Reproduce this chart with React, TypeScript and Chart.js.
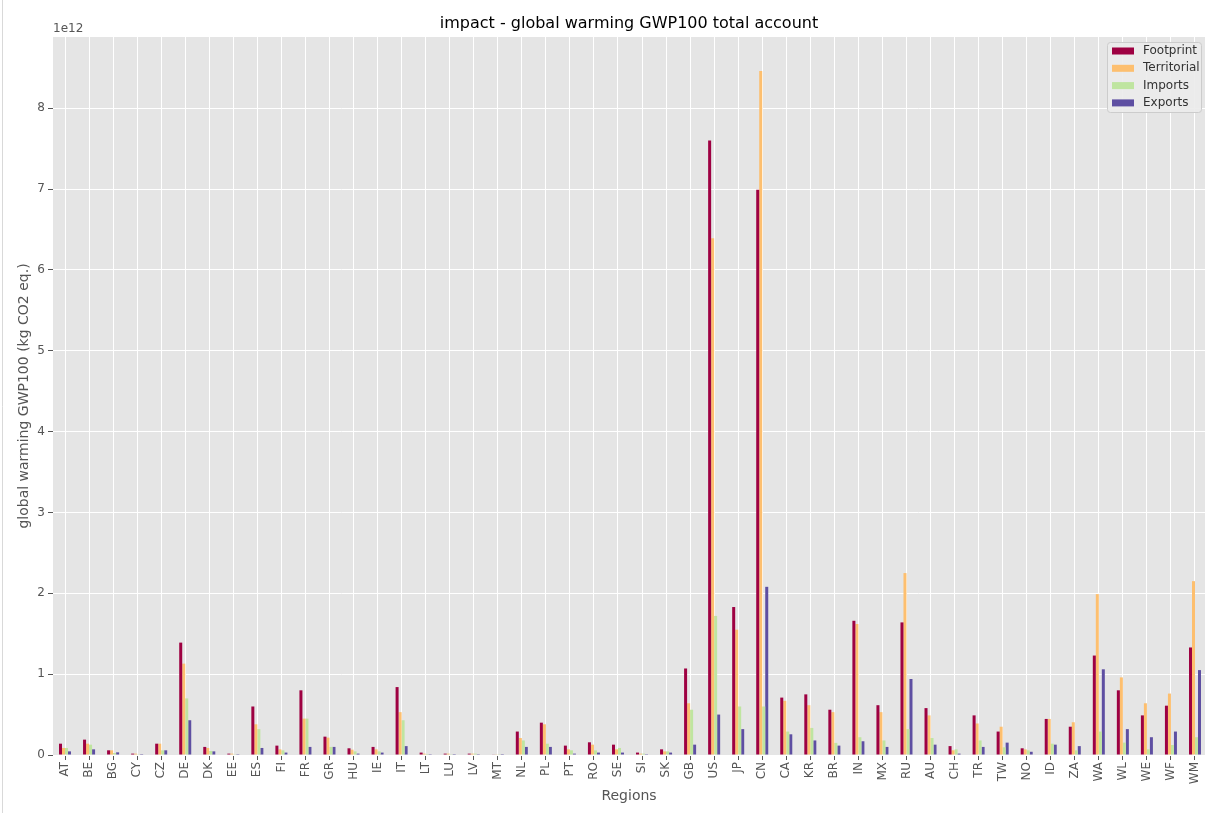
import React, { useEffect, useRef } from "react";
import { Chart, registerables } from "chart.js";

Chart.register(...registerables);

const regions = ["AT","BE","BG","CY","CZ","DE","DK","EE","ES","FI","FR","GR","HU","IE","IT","LT","LU","LV","MT","NL","PL","PT","RO","SE","SI","SK","GB","US","JP","CN","CA","KR","BR","IN","MX","RU","AU","CH","TR","TW","NO","ID","ZA","WA","WL","WE","WF","WM"];

// values in units of 1e12 kg CO2 eq.
const footprint = [0.14,0.19,0.058,0.017,0.14,1.39,0.10,0.017,0.60,0.116,0.80,0.227,0.083,0.10,0.84,0.03,0.017,0.017,0.005,0.29,0.40,0.116,0.157,0.128,0.03,0.07,1.07,7.60,1.83,6.99,0.71,0.75,0.56,1.66,0.616,1.64,0.58,0.11,0.49,0.29,0.083,0.446,0.35,1.23,0.80,0.49,0.61,1.33];
const territorial = [0.087,0.14,0.058,0.017,0.14,1.13,0.087,0.017,0.38,0.07,0.45,0.215,0.066,0.07,0.53,0.017,0.017,0.017,0.004,0.21,0.38,0.07,0.128,0.07,0.017,0.045,0.64,6.39,1.55,8.46,0.67,0.616,0.53,1.62,0.53,2.25,0.49,0.058,0.39,0.35,0.07,0.446,0.405,1.99,0.96,0.64,0.76,2.15];
const imports = [0.087,0.128,0.025,0.003,0.058,0.70,0.05,0.003,0.32,0.058,0.45,0.10,0.045,0.045,0.43,0.012,0.003,0.017,0.003,0.18,0.14,0.058,0.058,0.087,0.017,0.045,0.56,1.72,0.60,0.60,0.29,0.335,0.15,0.22,0.18,0.32,0.21,0.07,0.18,0.095,0.058,0.14,0.058,0.29,0.153,0.07,0.124,0.22];
const exportsV = [0.045,0.07,0.033,0.001,0.058,0.43,0.045,0.002,0.087,0.03,0.10,0.10,0.017,0.03,0.11,0.002,0.001,0.002,0.001,0.10,0.10,0.017,0.03,0.03,0.002,0.03,0.128,0.50,0.32,2.08,0.256,0.18,0.116,0.17,0.10,0.94,0.128,0.017,0.10,0.153,0.04,0.128,0.11,1.06,0.32,0.22,0.29,1.05];

const seriesNames = ["Footprint", "Territorial", "Imports", "Exports"];
const seriesColors = ["#9e0142", "#fdbf6f", "#bfe5a0", "#5e4fa2"];
const yTicks = [0, 1, 2, 3, 4, 5, 6, 7, 8];

const SCALE = 1e12;
const FONT = "'DejaVu Sans', sans-serif";

const decorPlugin = {
  id: "decor",
  beforeDraw(chart: any) {
    const ctx = chart.ctx;
    ctx.save();
    ctx.fillStyle = "#ffffff";
    ctx.fillRect(0, 0, chart.width, chart.height);
    const a = chart.chartArea;
    ctx.fillStyle = "#e5e5e5";
    ctx.fillRect(a.left, a.top, a.right - a.left, a.bottom - a.top);
    ctx.restore();
  },
  afterDraw(chart: any) {
    const ctx = chart.ctx;
    const a = chart.chartArea;
    ctx.save();
    // notebook border
    ctx.strokeStyle = "#d9d9d9";
    ctx.lineWidth = 1;
    ctx.beginPath();
    ctx.moveTo(2.5, 0);
    ctx.lineTo(2.5, chart.height);
    ctx.stroke();
    // title
    ctx.fillStyle = "#000000";
    ctx.font = `16px ${FONT}`;
    ctx.textAlign = "center";
    ctx.textBaseline = "middle";
    ctx.fillText("impact - global warming GWP100 total account", 629, 24);
    // offset text
    ctx.fillStyle = "#555555";
    ctx.font = `12px ${FONT}`;
    ctx.textAlign = "left";
    ctx.fillText("1e12", a.left, 29);
    // axis titles
    ctx.font = `14px ${FONT}`;
    ctx.textAlign = "center";
    ctx.fillText("Regions", 629, 796);
    ctx.save();
    ctx.translate(24, (a.top + a.bottom) / 2);
    ctx.rotate(-Math.PI / 2);
    ctx.fillText("global warming GWP100 (kg CO2 eq.)", 0, 0);
    ctx.restore();
    // legend
    const lx = 1107, ly = 42, lw = 94, lh = 70;
    ctx.fillStyle = "rgba(235,235,235,0.9)";
    ctx.strokeStyle = "#cccccc";
    ctx.lineWidth = 1;
    ctx.beginPath();
    if ((ctx as any).roundRect) {
      (ctx as any).roundRect(lx + 0.5, ly + 0.5, lw, lh, 3);
    } else {
      ctx.rect(lx + 0.5, ly + 0.5, lw, lh);
    }
    ctx.fill();
    ctx.stroke();
    ctx.font = `12px ${FONT}`;
    ctx.textAlign = "left";
    ctx.textBaseline = "middle";
    seriesNames.forEach((n, i) => {
      const cy = 51 + i * 17.3;
      ctx.fillStyle = seriesColors[i];
      ctx.fillRect(1112, cy - 3.5, 22, 7);
      ctx.fillStyle = "#333333";
      ctx.fillText(n, 1143, cy);
    });
    ctx.restore();
  },
};

export default function App() {
  const ref = useRef<HTMLCanvasElement>(null);
  useEffect(() => {
    if (!ref.current) return;
    const values = [footprint, territorial, imports, exportsV];
    const chart = new Chart(ref.current, {
      type: "bar",
      data: {
        labels: regions,
        datasets: seriesNames.map((n, i) => ({
          label: n,
          data: values[i].map((v) => v * SCALE),
          backgroundColor: seriesColors[i],
          borderWidth: 0,
          categoryPercentage: 0.5,
          barPercentage: 1.0,
        })),
      },
      options: {
        animation: false,
        responsive: false,
        layout: { padding: { top: 37, right: 8, left: 0, bottom: 0 } },
        plugins: {
          legend: { display: false },
          title: { display: false },
          tooltip: { enabled: false },
        },
        scales: {
          x: {
            offset: true,
            grid: {
              offset: false,
              color: "#ffffff",
              lineWidth: 1,
              drawTicks: true,
              tickLength: 5,
              tickColor: "#555555",
            },
            border: { display: false },
            ticks: {
              autoSkip: false,
              maxRotation: 90,
              minRotation: 90,
              padding: 2,
              color: "#555555",
              font: { family: FONT, size: 12 },
            },
            afterFit: (s: any) => {
              s.height = 58;
            },
          },
          y: {
            min: 0,
            max: 8.88 * SCALE,
            afterBuildTicks: (s: any) => {
              s.ticks = yTicks.map((v) => ({ value: v * SCALE }));
            },
            grid: {
              color: "#ffffff",
              lineWidth: 1,
              drawTicks: true,
              tickLength: 5,
              tickColor: "#555555",
            },
            border: { display: false },
            ticks: {
              padding: 3,
              color: "#555555",
              font: { family: FONT, size: 12 },
              callback: (v: any) => String(Math.round(Number(v) / SCALE)),
            },
            afterFit: (s: any) => {
              s.width = 53;
            },
          },
        },
      },
      plugins: [decorPlugin],
    });
    return () => chart.destroy();
  }, []);
  return (
    <div style={{ position: "absolute", left: 0, top: 0, width: 1205, height: 813, overflow: "hidden" }}>
      <canvas ref={ref} width={1215} height={813} style={{ display: "block" }} />
    </div>
  );
}
